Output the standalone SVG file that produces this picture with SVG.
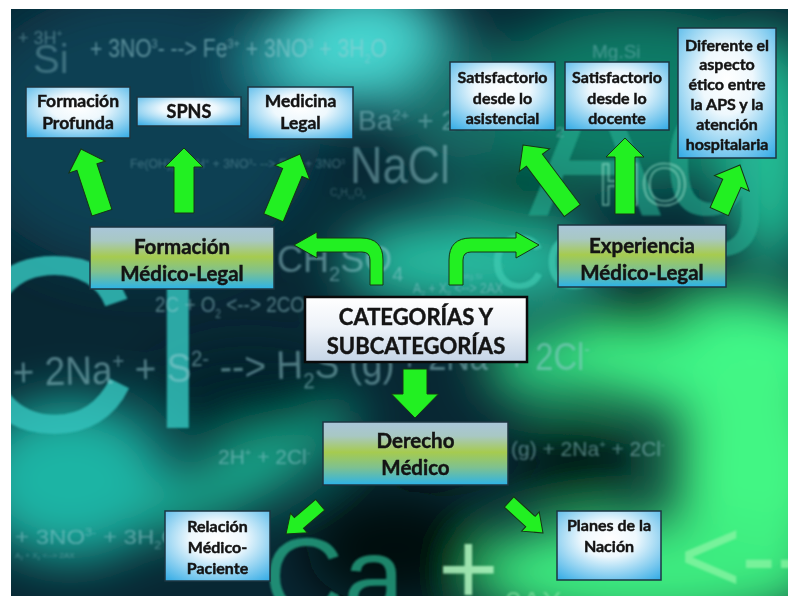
<svg xmlns="http://www.w3.org/2000/svg" width="788" height="596" viewBox="0 0 788 596">
  <defs>
    <radialGradient id="gBlue" cx="0.5" cy="0.4" r="0.75">
      <stop offset="0" stop-color="#ffffff"/>
      <stop offset="0.35" stop-color="#eef8fd"/>
      <stop offset="1" stop-color="#3aaee6"/>
    </radialGradient>
    <linearGradient id="gTri" x1="0" y1="0" x2="0" y2="1">
      <stop offset="0" stop-color="#a9c6da"/>
      <stop offset="0.22" stop-color="#a8c8c4"/>
      <stop offset="0.48" stop-color="#a6cb4f"/>
      <stop offset="0.72" stop-color="#7fc18f"/>
      <stop offset="1" stop-color="#2cb3e8"/>
    </linearGradient>
    <linearGradient id="gCat" x1="0" y1="0" x2="0" y2="1">
      <stop offset="0" stop-color="#ffffff"/>
      <stop offset="0.45" stop-color="#eef3f9"/>
      <stop offset="1" stop-color="#c4d4e6"/>
    </linearGradient>
    <filter id="glow" filterUnits="userSpaceOnUse" x="0" y="0" width="788" height="596">
      <feGaussianBlur stdDeviation="26"/>
    </filter>
    <filter id="haze" x="-10%" y="-30%" width="120%" height="160%">
      <feGaussianBlur stdDeviation="0.8"/>
    </filter>
    <filter id="haze2" x="-10%" y="-10%" width="120%" height="120%">
      <feGaussianBlur stdDeviation="1.2"/>
    </filter>
    <clipPath id="frame">
      <rect x="11" y="9" width="777" height="587"/>
    </clipPath>
  </defs>
  <style>
    .box{stroke:#1d3641;stroke-width:1.5}
    .cat{stroke:#0a0a0a;stroke-width:2.5}
    .lbl{font-family:Lato,"Liberation Sans",Arial,sans-serif;font-weight:bold;fill:#141414;stroke:#141414;stroke-width:0.45;text-anchor:middle}
    .arrow{fill:#22f022;stroke:#163416;stroke-width:1;stroke-linejoin:miter}
    .chem{font-family:"Liberation Sans",Arial,sans-serif;fill:#9ccfd6}
    .big{font-family:"Liberation Sans",Arial,sans-serif}
  </style>

  <rect width="788" height="596" fill="#ffffff"/>

  <!-- backdrop: glowing chemistry wallpaper -->
  <g id="backdrop" clip-path="url(#frame)">
    <rect x="11" y="9" width="777" height="587" fill="#082733"/>
    <g filter="url(#glow)">
      <ellipse cx="140" cy="130" rx="180" ry="140" fill="#104052"/>
      <ellipse cx="300" cy="60" rx="60" ry="45" fill="#248c96"/>
      <ellipse cx="365" cy="45" rx="85" ry="60" fill="#46d6d0"/>
      <ellipse cx="470" cy="110" rx="70" ry="70" fill="#146a66"/>
      <ellipse cx="640" cy="100" rx="150" ry="90" fill="#117c66"/>
      <ellipse cx="770" cy="150" rx="45" ry="120" fill="#22c096"/>
      <ellipse cx="470" cy="262" rx="130" ry="48" fill="#26bca0"/>
      <ellipse cx="545" cy="365" rx="60" ry="35" fill="#2ed482"/>
      <ellipse cx="705" cy="350" rx="145" ry="60" fill="#40f888"/>
      <ellipse cx="755" cy="470" rx="80" ry="115" fill="#42f684"/>
      <ellipse cx="650" cy="572" rx="180" ry="55" fill="#3cec80"/>
      <ellipse cx="70" cy="480" rx="100" ry="80" fill="#1cb4a4"/>
      <ellipse cx="250" cy="470" rx="120" ry="30" fill="#1eb394" transform="rotate(-28 250 470)"/>
      <ellipse cx="575" cy="460" rx="62" ry="42" fill="#041a12"/>
      <ellipse cx="395" cy="548" rx="90" ry="58" fill="#020d09"/>
      <ellipse cx="250" cy="395" rx="95" ry="42" fill="#06202a"/>
      <ellipse cx="520" cy="195" rx="50" ry="35" fill="#063a2c"/>
      <ellipse cx="640" cy="312" rx="60" ry="20" fill="#0a3a22"/>
    </g>

    <!-- large letters -->
    <g class="big" filter="url(#haze2)">
      <text x="-42" y="432" font-size="250" fill="#34c0ba" opacity="0.85">C</text>
      <text x="150" y="428" font-size="250" fill="#34c0ba" opacity="0.85">l</text>
      <text x="528" y="215" font-size="200" fill="#27b093" opacity="0.6">Ag</text>
      <text x="490" y="288" font-size="76" fill="#45d0b8" opacity="0.6">CO</text>
      <text x="264" y="614" font-size="110" fill="#2ab892" opacity="0.7">Ca</text>
      <text x="438" y="604" font-size="104" fill="#b2f6c0" opacity="0.85">+</text>
      <text x="680" y="592" font-size="105" fill="#86f4a2" opacity="0.8">&lt;--</text>
      <text x="505" y="612" font-size="30" fill="#8fe8a8" opacity="0.6">2AX</text>
      <text x="598" y="205" font-size="60" fill="none" stroke="#a6eed8" stroke-width="1.5" opacity="0.6">HO</text>
    </g>

    <!-- formulas -->
    <g class="chem" filter="url(#haze)">
      <text x="18" y="44" font-size="18" opacity="0.4">+ 3H<tspan dy="-7" font-size="10">+</tspan></text>
      <text x="33" y="73" font-size="40" opacity="0.35">Si</text>
      <text x="90" y="57" font-size="25" opacity="0.55" textLength="297" lengthAdjust="spacingAndGlyphs">+ 3NO<tspan dy="-9" font-size="13">3</tspan><tspan dy="9">- --&gt; Fe</tspan><tspan dy="-9" font-size="13">3+</tspan><tspan dy="9"> + 3NO</tspan><tspan dy="-9" font-size="13">3</tspan><tspan dy="9"> + 3H</tspan><tspan dy="6" font-size="13">2</tspan><tspan dy="-6">O</tspan></text>
      <text x="130" y="168" font-size="12" opacity="0.35" textLength="215" lengthAdjust="spacingAndGlyphs">Fe(OH)<tspan dy="3" font-size="7">3</tspan><tspan dy="-3"> + 3H</tspan><tspan dy="-4" font-size="7">+</tspan><tspan dy="4"> + 3NO</tspan><tspan dy="-4" font-size="7">3</tspan><tspan dy="4">- --&gt; Fe</tspan><tspan dy="-4" font-size="7">3+</tspan><tspan dy="4"> + 3NO</tspan><tspan dy="-4" font-size="7">3</tspan></text>
      <text x="330" y="196" font-size="10" opacity="0.3">C<tspan dy="3" font-size="6">6</tspan><tspan dy="-3">H</tspan><tspan dy="3" font-size="6">12</tspan><tspan dy="-3">O</tspan><tspan dy="3" font-size="6">6</tspan></text>
      <text x="358" y="130" font-size="28" opacity="0.45">Ba<tspan dy="-10" font-size="15">2+</tspan><tspan dy="10"> + 2Cl</tspan><tspan dy="-10" font-size="15">-</tspan><tspan dy="10"> + 2H</tspan><tspan dy="7" font-size="15">2</tspan><tspan dy="-7">O</tspan></text>
      <text x="350" y="183" font-size="52" opacity="0.45" textLength="100" lengthAdjust="spacingAndGlyphs">NaCl</text>
      <text x="277" y="272" font-size="36" opacity="0.5">CH<tspan dy="9" font-size="20">2</tspan><tspan dy="-9">SO</tspan><tspan dy="9" font-size="20">4</tspan></text>
      <text x="155" y="312" font-size="22" opacity="0.5" textLength="150" lengthAdjust="spacingAndGlyphs">2C + O<tspan dy="6" font-size="12">2</tspan><tspan dy="-6"> &lt;--&gt; 2CO</tspan></text>
      <text x="413" y="293" font-size="14" opacity="0.5" textLength="90" lengthAdjust="spacingAndGlyphs">A<tspan dy="3" font-size="8">2</tspan><tspan dy="-3"> + X</tspan><tspan dy="3" font-size="8">2</tspan><tspan dy="-3"> &lt;--&gt; 2AX</tspan></text>
      <text x="462" y="279" font-size="8" opacity="0.4">Mg.Si</text>
      <text x="592" y="58" font-size="19" opacity="0.4">Mg.Si</text>
      <text x="13" y="386" font-size="40" opacity="0.5" textLength="382" lengthAdjust="spacingAndGlyphs" transform="rotate(-1.5 13 386)">+ 2Na<tspan dy="-15" font-size="22">+</tspan><tspan dy="15"> + S</tspan><tspan dy="-15" font-size="22">2-</tspan><tspan dy="15"> --&gt; H</tspan><tspan dy="10" font-size="22">2</tspan><tspan dy="-10">S (g)</tspan></text>
      <text x="400" y="370" font-size="38" opacity="0.5" textLength="190" lengthAdjust="spacingAndGlyphs">+ 2Na<tspan dy="-14" font-size="20">+</tspan><tspan dy="14"> + 2Cl</tspan><tspan dy="-14" font-size="20">-</tspan></text>
      <text x="218" y="464" font-size="21" opacity="0.5">2H<tspan dy="-8" font-size="11">+</tspan><tspan dy="8"> + 2Cl</tspan><tspan dy="-8" font-size="11">-</tspan></text>
      <text x="511" y="456" font-size="21" opacity="0.5">(g) + 2Na<tspan dy="-8" font-size="11">+</tspan><tspan dy="8"> + 2Cl</tspan><tspan dy="-8" font-size="11">-</tspan></text>
      <text x="15" y="544" font-size="21" opacity="0.5" textLength="165" lengthAdjust="spacingAndGlyphs">+ 3NO<tspan dy="-8" font-size="11">3-</tspan><tspan dy="8"> + 3H</tspan><tspan dy="5" font-size="11">2</tspan><tspan dy="-5">O</tspan></text>
      <text x="15" y="558" font-size="8" opacity="0.4">A<tspan dy="2" font-size="5">2</tspan><tspan dy="-2"> + X</tspan><tspan dy="2" font-size="5">2</tspan><tspan dy="-2"> &lt;--&gt; 2AX</tspan></text>
    </g>
  </g>

  <!-- connectors -->
  <g id="connectors">
    <polygon id="a-fml-fp" class="arrow" points="0,0 19,19 10.5,19 10.5,67 -10.5,67 -10.5,19 -19,19" transform="translate(81 149) rotate(-18.2)"/>
    <polygon id="a-fml-spns" class="arrow" points="0,0 19,19 10,19 10,65 -10,65 -10,19 -19,19" transform="translate(184 148)"/>
    <polygon id="a-fml-ml" class="arrow" points="0,0 19,20 10.5,20 10.5,69 -10.5,69 -10.5,20 -19,20" transform="translate(300 154) rotate(22.6)"/>
    <polygon id="a-exp-sa" class="arrow" points="0,0 19,19 10,19 10,82 -10,82 -10,19 -19,19" transform="translate(523 145) rotate(-36.9)"/>
    <polygon id="a-exp-sd" class="arrow" points="0,0 19,19 10,19 10,76 -10,76 -10,19 -19,19" transform="translate(625 138)"/>
    <polygon id="a-exp-dif" class="arrow" points="0,0 19,20 10,20 10,51 -10,51 -10,20 -19,20" transform="translate(740 165) rotate(24)"/>
    <path id="a-cat-fml" class="arrow" d="M383,285 L383,260 Q383,238 361,238 L317,238 L317,232 L294,245 L317,258 L317,252 L362,252 Q370,252 370,260 L370,285 Z"/>
    <path id="a-cat-exp" class="arrow" d="M449,285 L449,260 Q449,238 471,238 L516,238 L516,232 L539,245 L516,258 L516,252 L471,252 Q463,252 463,260 L463,285 Z"/>
    <polygon id="a-cat-der" class="arrow" points="0,0 23.5,24 12,24 12,49 -12,49 -12,24 -23.5,24" transform="translate(415 418) rotate(180)"/>
    <polygon id="a-der-rel" class="arrow" points="0,0 13,17 7,17 7,45 -7,45 -7,17 -13,17" transform="translate(286 534) rotate(-130.5)"/>
    <polygon id="a-der-pln" class="arrow" points="0,0 13,17 7,17 7,46 -7,46 -7,17 -13,17" transform="translate(543 533) rotate(132.4)"/>
  </g>

  <!-- nodes -->
  <g id="n-formacion-profunda">
    <rect class="box" x="26" y="87" width="104" height="51" fill="url(#gBlue)"/>
    <text class="lbl" x="78" y="107" font-size="17.5">Formación</text>
    <text class="lbl" x="78" y="129" font-size="17.5">Profunda</text>
  </g>
  <g id="n-spns">
    <rect class="box" x="137" y="97" width="104" height="29" fill="url(#gBlue)"/>
    <text class="lbl" x="189" y="118" font-size="18">SPNS</text>
  </g>
  <g id="n-medicina-legal">
    <rect class="box" x="248" y="87" width="105" height="52" fill="url(#gBlue)"/>
    <text class="lbl" x="300.5" y="107" font-size="17.5">Medicina</text>
    <text class="lbl" x="300.5" y="129" font-size="17.5">Legal</text>
  </g>
  <g id="n-satisf-asistencial">
    <rect class="box" x="450" y="62" width="105" height="68" fill="url(#gBlue)"/>
    <text class="lbl" x="502.5" y="83" font-size="16">Satisfactorio</text>
    <text class="lbl" x="502.5" y="103.5" font-size="16">desde lo</text>
    <text class="lbl" x="502.5" y="124" font-size="16">asistencial</text>
  </g>
  <g id="n-satisf-docente">
    <rect class="box" x="565" y="62" width="104" height="68" fill="url(#gBlue)"/>
    <text class="lbl" x="617" y="83" font-size="16">Satisfactorio</text>
    <text class="lbl" x="617" y="103.5" font-size="16">desde lo</text>
    <text class="lbl" x="617" y="124" font-size="16">docente</text>
  </g>
  <g id="n-diferente">
    <rect class="box" x="678" y="28" width="98" height="130" fill="url(#gBlue)"/>
    <text class="lbl" x="727" y="50.5" font-size="16">Diferente el</text>
    <text class="lbl" x="727" y="70.3" font-size="16">aspecto</text>
    <text class="lbl" x="727" y="90.1" font-size="16">ético entre</text>
    <text class="lbl" x="727" y="109.9" font-size="16">la APS y la</text>
    <text class="lbl" x="727" y="129.7" font-size="16">atención</text>
    <text class="lbl" x="727" y="149.5" font-size="16">hospitalaria</text>
  </g>
  <g id="n-formacion-ml">
    <rect class="box" x="90" y="227" width="184" height="62" fill="url(#gTri)"/>
    <text class="lbl" x="182" y="254" font-size="20.5">Formación</text>
    <text class="lbl" x="182" y="281" font-size="20.5">Médico-Legal</text>
  </g>
  <g id="n-experiencia-ml">
    <rect class="box" x="558" y="225" width="168" height="62" fill="url(#gTri)"/>
    <text class="lbl" x="642" y="253" font-size="20.5">Experiencia</text>
    <text class="lbl" x="642" y="280" font-size="20.5">Médico-Legal</text>
  </g>
  <g id="n-categorias">
    <rect class="cat" x="305" y="297" width="222" height="65" fill="url(#gCat)"/>
    <text class="lbl" x="416" y="325" font-size="22">CATEGORÍAS Y</text>
    <text class="lbl" x="416" y="354" font-size="22">SUBCATEGORÍAS</text>
  </g>
  <g id="n-derecho-medico">
    <rect class="box" x="323" y="422" width="185" height="63" fill="url(#gTri)"/>
    <text class="lbl" x="415.5" y="448" font-size="20.5">Derecho</text>
    <text class="lbl" x="415.5" y="475" font-size="20.5">Médico</text>
  </g>
  <g id="n-relacion">
    <rect class="box" x="165" y="511" width="105" height="70" fill="url(#gBlue)"/>
    <text class="lbl" x="217.5" y="532" font-size="16">Relación</text>
    <text class="lbl" x="217.5" y="553" font-size="16">Médico-</text>
    <text class="lbl" x="217.5" y="574" font-size="16">Paciente</text>
  </g>
  <g id="n-planes">
    <rect class="box" x="557" y="511" width="104" height="69" fill="url(#gBlue)"/>
    <text class="lbl" x="609" y="531" font-size="16">Planes de la</text>
    <text class="lbl" x="609" y="552" font-size="16">Nación</text>
  </g>
</svg>
